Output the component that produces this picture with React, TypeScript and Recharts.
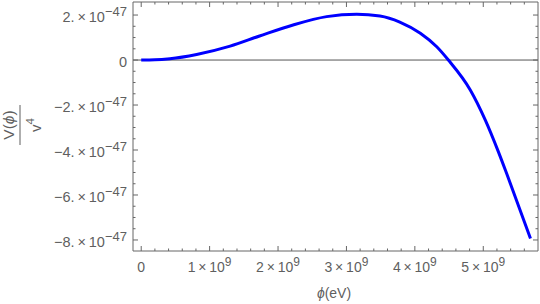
import { Line, LineChart, ReferenceLine, XAxis, YAxis } from "recharts"

// field value phi in units of 1e9 eV, potential V/v^4 in units of 1e-47
const phi = [0, 0.2, 0.42, 0.81, 1.3, 1.73, 2.22, 2.71, 3.15, 3.49, 3.78, 4.08, 4.32, 4.49, 4.81, 5.03, 5.22, 5.35, 5.69]
const potential = [0, 0.01, 0.06, 0.25, 0.62, 1.07, 1.56, 1.93, 2.04, 1.96, 1.69, 1.19, 0.59, 0, -1.33, -2.67, -4.07, -5.11, -7.93]

const xMajor = [0, 1, 2, 3, 4, 5]
const xMinor = [0.2, 0.4, 0.6, 0.8, 1.2, 1.4, 1.6, 1.8, 2.2, 2.4, 2.6, 2.8, 3.2, 3.4, 3.6, 3.8, 4.2, 4.4, 4.6, 4.8, 5.2, 5.4, 5.6]
const yMajor = [2, 0, -2, -4, -6, -8]
const yMinor = [1.5, 1, 0.5, -0.5, -1, -1.5, -2.5, -3, -3.5, -4.5, -5, -5.5, -6.5, -7, -7.5]

const data = phi.map((p, i) => ({ phi: p, v: potential[i] }))

const xDomain: [number, number] = [-0.12, 5.8]
const yDomain: [number, number] = [-8.49, 2.58]

const frame = "#666"
const ink = "#5f5f5f"
const font = "'Liberation Sans', Arial, sans-serif"

const isMajor = (list: number[], v: number) => list.some((m) => Math.abs(m - v) < 1e-9)

function minus(n: number) {
  return n < 0 ? `\u2212${Math.abs(n)}` : `${n}`
}

function BottomTick(props: any) {
  const { x, y, payload } = props
  const v = payload.value
  const major = isMajor(xMajor, v)
  return (
    <g>
      <line x1={x} x2={x} y1={y} y2={y - (major ? 5 : 2.5)} stroke={frame} />
      {major && (
        <text x={x} y={y + 21} textAnchor="middle" fill={ink} fontSize={14} fontFamily={font}>
          {v === 0 ? "0" : `${v}\u2009\u00d7\u200910`}
          {v !== 0 && (
            <tspan dy={-6} fontSize={12}>
              9
            </tspan>
          )}
        </text>
      )}
    </g>
  )
}

function TopTick(props: any) {
  const { x, y, payload } = props
  const major = isMajor(xMajor, payload.value)
  return <line x1={x} x2={x} y1={y} y2={y + (major ? 5 : 2.5)} stroke={frame} />
}

function LeftTick(props: any) {
  const { x, y, payload } = props
  const v = payload.value
  const major = isMajor(yMajor, v)
  return (
    <g>
      <line x1={x} x2={x + (major ? 5 : 2.5)} y1={y} y2={y} stroke={frame} />
      {major && (
        <text x={x - 6} y={y + 7} textAnchor="end" fill={ink} fontSize={14.5} fontFamily={font}>
          {v === 0 ? "0" : `${minus(v)}.\u2009\u00d7\u200910`}
          {v !== 0 && (
            <tspan dy={-6} fontSize={13}>
              {"\u221247"}
            </tspan>
          )}
        </text>
      )}
    </g>
  )
}

function RightTick(props: any) {
  const { x, y, payload } = props
  const major = isMajor(yMajor, payload.value)
  return <line x1={x} x2={x - (major ? 5 : 2.5)} y1={y} y2={y} stroke={frame} />
}

function XTitle() {
  return (
    <text x={334} y={298} textAnchor="middle" fill={ink} fontSize={14} fontFamily={font}>
      <tspan fontStyle="italic">{"\u03d5"}</tspan>
      (eV)
    </text>
  )
}

function YTitle() {
  return (
    <g transform="translate(20,125) rotate(-90)" fontFamily={font} fill={ink}>
      <text x={0} y={-6} textAnchor="middle" fontSize={15.5}>
        V(<tspan fontStyle="italic">{"\u03d5"}</tspan>)
      </text>
      <line x1={-20} x2={20} y1={0} y2={0} stroke={ink} strokeWidth={1} />
      <text x={0} y={21} textAnchor="middle" fontSize={15}>
        v
        <tspan dy={-7} fontSize={11.5}>
          4
        </tspan>
      </text>
    </g>
  )
}

export default function App() {
  const xTicks = [...xMajor, ...xMinor]
  const yTicks = [...yMajor, ...yMinor]
  return (
    <div style={{ position: "absolute", left: 0, top: 0 }}>
      <LineChart width={540} height={304} data={data} margin={{ top: 1, right: 1, bottom: 52, left: 132 }}>
        <XAxis
          xAxisId="b"
          dataKey="phi"
          type="number"
          domain={xDomain}
          allowDataOverflow
          ticks={xTicks}
          interval={0}
          height={1}
          tickSize={0}
          tickMargin={0}
          tickLine={false}
          tick={<BottomTick />}
          axisLine={{ stroke: frame }}
          label={XTitle}
        />
        <XAxis
          xAxisId="t"
          orientation="top"
          dataKey="phi"
          type="number"
          domain={xDomain}
          allowDataOverflow
          ticks={xTicks}
          interval={0}
          height={1}
          tickSize={0}
          tickMargin={0}
          tickLine={false}
          tick={<TopTick />}
          axisLine={{ stroke: frame }}
        />
        <YAxis
          yAxisId="l"
          type="number"
          domain={yDomain}
          allowDataOverflow
          ticks={yTicks}
          interval={0}
          width={1}
          tickSize={0}
          tickMargin={0}
          tickLine={false}
          tick={<LeftTick />}
          axisLine={{ stroke: frame }}
          label={YTitle}
        />
        <YAxis
          yAxisId="r"
          orientation="right"
          type="number"
          domain={yDomain}
          allowDataOverflow
          ticks={yTicks}
          interval={0}
          width={1}
          tickSize={0}
          tickMargin={0}
          tickLine={false}
          tick={<RightTick />}
          axisLine={{ stroke: frame }}
        />
        <ReferenceLine xAxisId="b" yAxisId="l" y={0} stroke="#555" strokeWidth={1} />
        <Line
          xAxisId="b"
          yAxisId="l"
          type="monotone"
          dataKey="v"
          stroke="#0000ff"
          strokeWidth={3}
          dot={false}
          isAnimationActive={false}
        />
      </LineChart>
    </div>
  )
}
